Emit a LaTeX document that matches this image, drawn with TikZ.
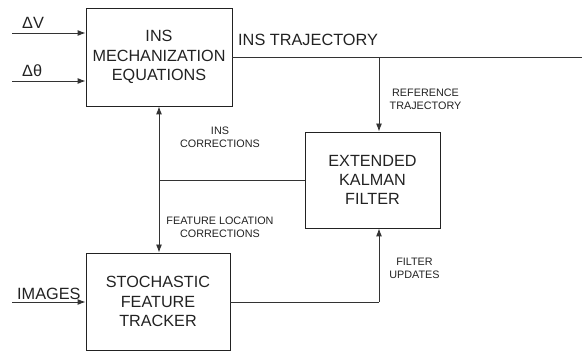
\documentclass[tikz,border=0pt]{standalone}
\usepackage{fontspec}
\setmainfont{Liberation Sans}
\usetikzlibrary{arrows.meta}
\definecolor{ink}{HTML}{222222}
\definecolor{wire}{HTML}{333333}
\begin{document}
\begin{tikzpicture}[x=1pt,y=-1pt,
  blockbox/.style={draw=ink,line width=0.9pt,inner sep=0pt,text=ink,align=center,
    font=\fontsize{16.2}{19.3}\selectfont},
  wire/.style={draw=wire,line width=0.9pt},
  arr/.style={wire,-{Latex[length=8pt,width=6pt]}},
  small/.style={text=ink,align=center,font=\fontsize{10.8}{13}\selectfont,inner sep=0pt},
  big/.style={text=ink,font=\fontsize{16.3}{19}\selectfont,inner sep=0pt}]
\useasboundingbox (0,0) rectangle (582,352);
% blocks
\node[blockbox,minimum width=146pt,minimum height=98pt] (ins) at (159,57) {INS\\MECHANIZATION\\EQUATIONS};
\node[blockbox,minimum width=135pt,minimum height=96pt] (ekf) at (372.5,180) {EXTENDED\\KALMAN\\FILTER};
\node[blockbox,minimum width=144pt,minimum height=97pt] (sft) at (158,301.5) {STOCHASTIC\\FEATURE\\TRACKER};
% inputs
\coordinate (dvs) at (12,33);
\coordinate (dts) at (12,81);
\coordinate (ims) at (12,302);
\draw[arr] (dvs) -- (dvs -| ins.west);
\draw[arr] (dts) -- (dts -| ins.west);
\draw[arr] (ims) -- (ims -| sft.west);
\node[big,anchor=base west] (dvl) at (22,28.5) {ΔV};
\node[big,anchor=base west] (dtl) at (22,77) {Δθ};
\node[big,anchor=base west] (iml) at (17,300) {IMAGES};
% trajectory
\coordinate (trajend) at (582,57.5);
\coordinate (tj) at (379,57.5);
\draw[wire] (ins.east |- trajend) -- (trajend);
\node[big,anchor=base west] (trajl) at (238,46) {INS TRAJECTORY};
\draw[arr] (tj) -- (tj |- ekf.north);
\node[small] (refl) at (425.5,99.5) {REFERENCE\\TRAJECTORY};
% corrections
\coordinate (cx) at (159,180);
\draw[wire,{Latex[length=8pt,width=6pt]}-{Latex[length=8pt,width=6pt]}] (cx |- ins.south) -- (cx |- sft.north);
\draw[wire] (cx) -- (ekf.west);
\node[small] (insc) at (220,137.5) {INS\\CORRECTIONS};
\node[small] (flc) at (220,227) {FEATURE LOCATION\\CORRECTIONS};
% filter updates
\coordinate (fu) at (379,302);
\draw[wire] (sft.east |- fu) -- (fu);
\draw[arr] (fu) -- (fu |- ekf.south);
\node[small] (ful) at (414.5,268.5) {FILTER\\UPDATES};
\end{tikzpicture}
\end{document}
